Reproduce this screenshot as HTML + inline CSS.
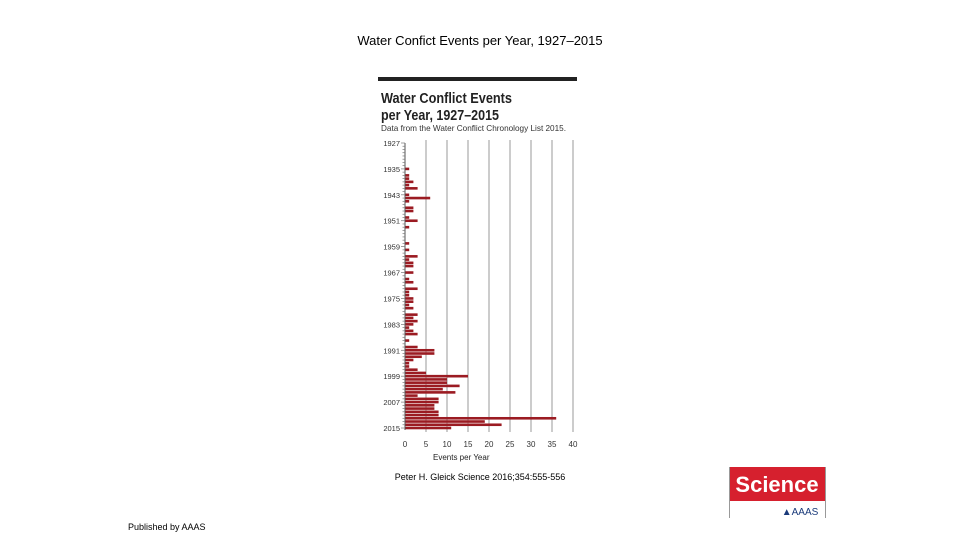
<!DOCTYPE html>
<html><head><meta charset="utf-8"><style>
html,body{margin:0;padding:0;background:#fff;width:960px;height:540px;overflow:hidden}
svg{display:block}
text{font-family:"Liberation Sans",Arial,sans-serif}
</style></head><body>
<svg id="c" width="960" height="540" xmlns="http://www.w3.org/2000/svg">
<text x="480" y="45" text-anchor="middle" font-size="13" fill="#000">Water Confict Events per Year, 1927–2015</text>
<rect x="378" y="77" width="199" height="4" fill="#222"/>
<text x="381" y="103" font-size="14.5" font-weight="bold" fill="#222" textLength="131" lengthAdjust="spacingAndGlyphs">Water Conflict Events</text>
<text x="381" y="120" font-size="14.5" font-weight="bold" fill="#222" textLength="118" lengthAdjust="spacingAndGlyphs">per Year, 1927–2015</text>
<text x="381" y="131" font-size="8.5" fill="#333" textLength="185" lengthAdjust="spacingAndGlyphs">Data from the Water Conflict Chronology List 2015.</text>
<g id="grid"></g><g id="bars"></g><g id="axes"></g>
<text x="433" y="460" font-size="8" fill="#222">Events per Year</text>
<text x="480" y="480" text-anchor="middle" font-size="9" fill="#000">Peter H. Gleick Science 2016;354:555-556</text>
<text x="128" y="530" font-size="9" fill="#000">Published by AAAS</text>
<g>
<rect x="729" y="467" width="97" height="34" fill="#d6202e"/>
<line x1="729.5" y1="467" x2="729.5" y2="518" stroke="#999" stroke-width="1"/>
<line x1="825.5" y1="467" x2="825.5" y2="518" stroke="#999" stroke-width="1"/>
<text x="777" y="492" text-anchor="middle" font-family="Liberation Serif,serif" font-weight="bold" font-size="22" fill="#fff">Science</text>
<text x="800" y="515" text-anchor="middle" font-family="Liberation Serif,serif" font-size="10" fill="#1a3a7a">▲AAAS</text>
</g>
</svg>
<script>
const startYear = 1927;
const values = [
0,0,0,0,0,0,0,0,1,0, 1,1,2,1,3,0,1,6,1,0, 2,2,0,1,3,0,1,0,0,0,
0,1,0,1,0,3,1,2,2,0, 2,0,1,2,0,3,1,1,2,2, 1,2,0,3,2,3,2,1,2,3,
0,1,0,3,7,7,4,2,1,1, 3,5,15,10,10,13,9,12,3,8, 8,7,7,8,8,36,19,23,11];
const xTicks = [0,5,10,15,20,25,30,35,40];
const yTickLabels = [1927,1935,1943,1951,1959,1967,1975,1983,1991,1999,2007,2015];
const NS="http://www.w3.org/2000/svg";
const x0=405, xPer=4.2, yTop=143, yBot=428, endYear=2015;
const X=v=>x0+v*xPer;
const Y=yr=>yTop+(yr-startYear)*(yBot-yTop)/(endYear-startYear);
function mk(tag,attrs,parent){const e=document.createElementNS(NS,tag);for(const k in attrs)e.setAttribute(k,attrs[k]);document.getElementById(parent).appendChild(e);return e;}
xTicks.forEach(t=>{
  if(t>0){const l=mk('line',{x1:X(t),x2:X(t),y1:140,y2:432,stroke:'#999','stroke-width':1},'grid');
  
  }
  const tx=mk('text',{x:X(t),y:447,'text-anchor':'middle','font-size':8,fill:'#333'},'axes');
  tx.textContent=t;
  
  
});
values.forEach((v,i)=>{
  if(v<=0)return;
  const yr=startYear+i;
  const r=mk('rect',{x:x0,y:Y(yr)-1.3,width:v*xPer,height:2.6,fill:'#9b1b22'},'bars');
  
  
});
const ax=mk('line',{x1:x0,x2:x0,y1:yTop,y2:yBot+2,stroke:'#555','stroke-width':1},'axes');


for(let yr=startYear;yr<=endYear;yr++){
  const major=(yr-startYear)%8===0;
  const t=mk('line',{x1:x0-(major?4:2.5),x2:x0,y1:Y(yr),y2:Y(yr),stroke:'#777','stroke-width':0.7},'axes');
  
  
}
yTickLabels.forEach(yr=>{
  const tx=mk('text',{x:x0-5,y:Y(yr)+3,'text-anchor':'end','font-size':7.5,fill:'#333'},'axes');
  tx.textContent=yr;
  
  
});
</script>
</body></html>
